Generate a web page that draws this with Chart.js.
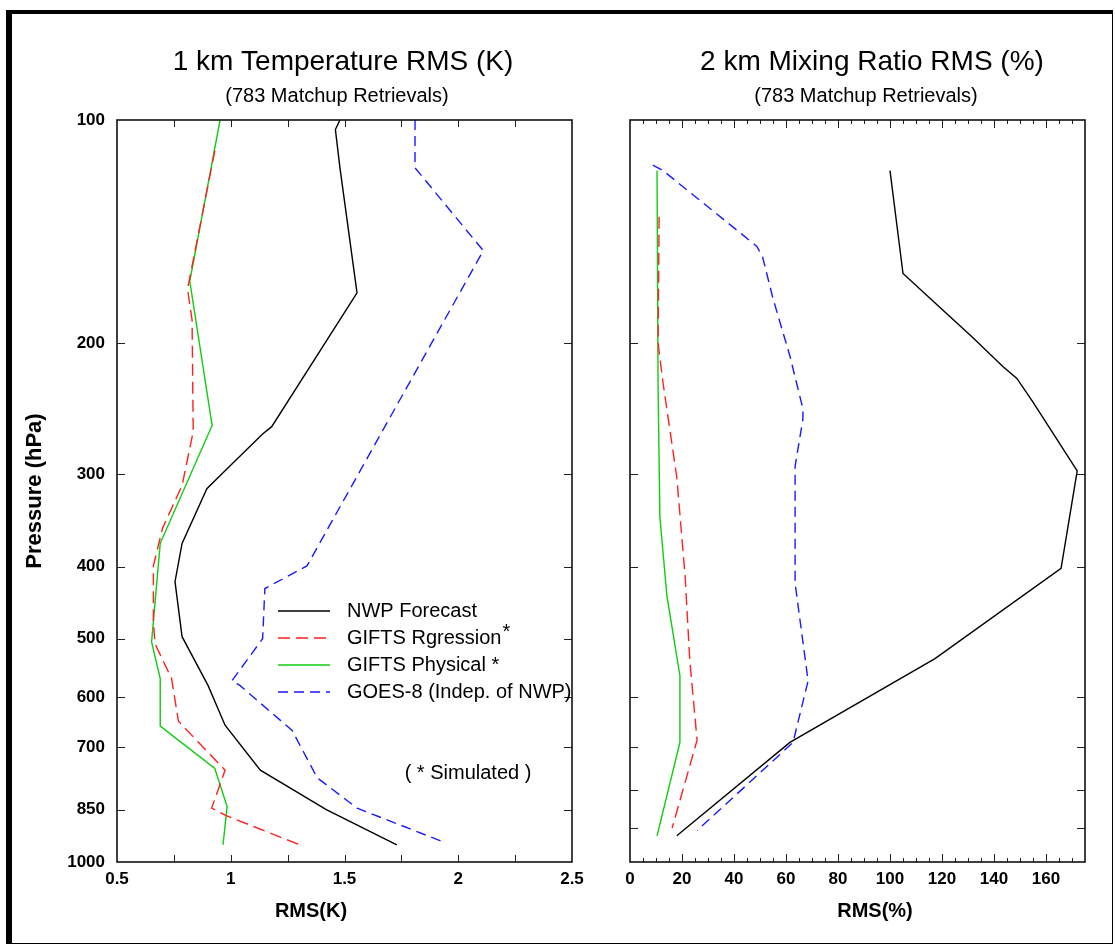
<!DOCTYPE html>
<html>
<head>
<meta charset="utf-8">
<title>GIFTS retrieval RMS profiles</title>
<script src="https://cdn.jsdelivr.net/npm/chart.js@4.4.1/dist/chart.umd.min.js"></script>
<style>
  html, body { margin: 0; padding: 0; background: #fff; }
  #frame {
    position: absolute; left: 6px; top: 10px; width: 1100px; height: 929px;
    border-left: 6px solid #000; border-top: 4px solid #000;
    border-right: 1px solid #000; border-bottom: 1px solid #000;
  }
  canvas { position: absolute; top: 0; }
  #tempChart { left: 0; }
  #mixChart { left: 600px; }
</style>
</head>
<body>
<div id="frame"></div>
<canvas id="tempChart" width="600" height="945"></canvas>
<canvas id="mixChart" width="515" height="945"></canvas>
<script>
// ---- data ----
const seriesLabels = ['NWP Forecast', 'GIFTS Rgression*', 'GIFTS Physical *', 'GOES-8 (Indep. of NWP)'];

// 1 km temperature RMS (K) vs pressure (hPa)
const nwpTempP  = [100, 103, 116, 171, 259, 265, 297, 314, 372, 419, 497, 578, 654, 752, 850, 948];
const nwpTempK  = [1.48, 1.46, 1.48, 1.555, 1.18, 1.14, 0.975, 0.895, 0.786, 0.755, 0.786, 0.90, 0.975, 1.13, 1.42, 1.73];
const regTempP  = [110, 169, 186, 263, 311, 355, 399, 474, 508, 566, 646, 752, 846, 866, 952];
const regTempK  = [0.93, 0.81, 0.83, 0.835, 0.786, 0.70, 0.66, 0.66, 0.667, 0.74, 0.77, 0.975, 0.916, 0.98, 1.318];
const physTempP = [100, 165, 258, 372, 505, 566, 656, 748, 842, 948];
const physTempK = [0.953, 0.82, 0.918, 0.69, 0.652, 0.69, 0.69, 0.93, 0.984, 0.966];
const goesTempP = [100, 116, 150, 399, 428, 500, 570, 578, 665, 770, 846, 941];
const goesTempK = [1.81, 1.81, 2.11, 1.335, 1.15, 1.14, 1.005, 1.04, 1.27, 1.38, 1.555, 1.94];

// 2 km mixing ratio RMS (%) vs pressure (hPa)
const nwpMixP  = [117, 161, 178, 196, 215, 223, 240, 297, 402, 532, 690, 922];
const nwpMixPc = [100, 105, 118.5, 131.5, 143.5, 148.8, 155, 172, 165.8, 117.3, 61.5, 18];
const regMixP  = [135, 200, 226, 303, 412, 535, 685, 900];
const regMixPc = [11.2, 10.8, 12.7, 18, 21.2, 23, 25.8, 16.2];
const physMixP  = [117, 229, 343, 438, 561, 690, 922];
const physMixPc = [10.4, 10.8, 11.5, 14.2, 19.2, 19.2, 10.4];
const goesMixP  = [115, 117, 148, 153, 174, 208, 245, 253, 293, 421, 570, 690, 907];
const goesMixPc = [8.8, 12.7, 48.8, 51, 55, 61.5, 66.5, 66.5, 63.5, 63.5, 68.5, 62.7, 25.8];

// axis ticks
const pressureTicks = [100, 200, 300, 400, 500, 600, 700, 850, 1000];
const tempTicks = [0.5, 1, 1.5, 2, 2.5];
const tempTickLabels = ['0.5', '1', '1.5', '2', '2.5'];
const tempMinorTicks = [0.75, 1, 1.25, 1.5, 1.75, 2, 2.25];
const mixTicks = [0, 20, 40, 60, 80, 100, 120, 140, 160];
const mixMinorTicks = [5, 10, 15, 25, 30, 35, 45, 50, 55, 65, 70, 75, 85, 90, 95, 105, 110, 115, 125, 130, 135, 145, 150, 155, 165, 170];
const mixSideTicks = [200, 300, 400, 600, 700, 800, 900];

Chart.defaults.font.family = '"Liberation Sans", Arial, sans-serif';
Chart.defaults.color = '#000';

const pairs = (p, v) => p.map((pp, i) => ({ x: v[i], y: pp }));

const styles = [
  { borderColor: '#000000', borderWidth: 1.4 },
  { borderColor: '#ff2020', borderWidth: 1.4, borderDash: [12, 6] },
  { borderColor: '#10cc10', borderWidth: 1.4 },
  { borderColor: '#1a1aff', borderWidth: 1.4, borderDash: [10, 6] }
];

function makeDatasets(list) {
  return list.map((d, i) => Object.assign({
    label: seriesLabels[i],
    data: d,
    showLine: true,
    pointRadius: 0,
    tension: 0,
    fill: false
  }, styles[i]));
}

// plot box + inward tick marks
const frameTicks = {
  id: 'frameTicks',
  afterDatasetsDraw(chart, args, o) {
    const { ctx, chartArea: a, scales: { x, y } } = chart;
    ctx.save();
    ctx.strokeStyle = '#222';
    ctx.lineWidth = 1;
    const seg = (x1, y1, x2, y2) => { ctx.beginPath(); ctx.moveTo(x1, y1); ctx.lineTo(x2, y2); ctx.stroke(); };
    (o.xTicks || []).forEach(t => {
      t.values.forEach(v => {
        const px = Math.round(x.getPixelForValue(v)) + 0.5;
        seg(px, a.bottom, px, a.bottom - t.len);
        seg(px, a.top, px, a.top + t.len);
      });
    });
    (o.yTicks || []).forEach(t => {
      t.values.forEach(v => {
        const py = Math.round(y.getPixelForValue(v)) + 0.5;
        seg(a.left, py, a.left + t.len, py);
        seg(a.right, py, a.right - t.len, py);
      });
    });
    ctx.lineWidth = 1.6;
    ctx.strokeStyle = '#111';
    ctx.strokeRect(a.left, a.top, a.right - a.left, a.bottom - a.top);
    ctx.restore();
  }
};

// free text: titles, axis label, note
const annotate = {
  id: 'annotate',
  afterDraw(chart, args, o) {
    const ctx = chart.ctx;
    ctx.save();
    ctx.fillStyle = '#000';
    ctx.textBaseline = 'middle';
    (o.texts || []).forEach(t => {
      ctx.font = t.font;
      ctx.textAlign = t.align || 'center';
      ctx.fillText(t.text, t.x, t.y);
    });
    ctx.restore();
  }
};

// legend drawn inside the plot area
const insideLegend = {
  id: 'insideLegend',
  afterDraw(chart, args, o) {
    if (!o.display) return;
    const ctx = chart.ctx;
    chart.data.datasets.forEach((ds, i) => {
      const y = o.y + i * o.rowGap;
      ctx.save();
      ctx.strokeStyle = ds.borderColor;
      ctx.lineWidth = ds.borderWidth;
      ctx.setLineDash(ds.borderDash || []);
      ctx.beginPath(); ctx.moveTo(o.x, y); ctx.lineTo(o.x + o.lineLen, y); ctx.stroke();
      ctx.setLineDash([]);
      ctx.font = o.font;
      ctx.fillStyle = '#000';
      ctx.textBaseline = 'middle';
      ctx.textAlign = 'left';
      let label = ds.label;
      const star = label.endsWith('*') && !label.endsWith(' *');
      if (star) label = label.slice(0, -1);
      ctx.fillText(label, o.x + o.textGap, y);
      if (star) ctx.fillText('*', o.x + o.textGap + ctx.measureText(label).width + 1, y - 6);
      ctx.restore();
    });
  }
};

const tickFont = { size: 17, weight: 'bold' };
const titleFont = '28px "Liberation Sans", Arial, sans-serif';
const subFont = '20px "Liberation Sans", Arial, sans-serif';
const axisFont = 'bold 20px "Liberation Sans", Arial, sans-serif';

// left panel: temperature
new Chart(document.getElementById('tempChart'), {
  type: 'scatter',
  data: {
    datasets: makeDatasets([
      pairs(nwpTempP, nwpTempK),
      pairs(regTempP, regTempK),
      pairs(physTempP, physTempK),
      pairs(goesTempP, goesTempK)
    ])
  },
  options: {
    responsive: false,
    animation: false,
    events: [],
    layout: { padding: { top: 120, right: 28, bottom: 0, left: 0 } },
    scales: {
      x: {
        type: 'linear', min: 0.5, max: 2.5,
        afterBuildTicks: s => { s.ticks = tempTicks.map(v => ({ value: v })); },
        afterFit: s => { s.height = 83; },
        grid: { display: false, drawTicks: false },
        border: { display: false },
        ticks: { font: tickFont, padding: 7, maxRotation: 0, autoSkip: false,
                 callback: v => tempTickLabels[tempTicks.indexOf(v)] }
      },
      y: {
        type: 'logarithmic', reverse: true, min: 100, max: 1000,
        afterBuildTicks: s => { s.ticks = pressureTicks.map(v => ({ value: v })); },
        afterFit: s => { s.width = 117; },
        grid: { display: false, drawTicks: false },
        border: { display: false },
        title: { display: true, text: 'Pressure (hPa)', font: { size: 22, weight: 'bold' }, padding: { top: 22, bottom: 0 } },
        ticks: { font: tickFont, padding: 12, autoSkip: false, callback: v => String(v) }
      }
    },
    plugins: {
      legend: { display: false },
      tooltip: { enabled: false },
      frameTicks: {
        xTicks: [{ values: tempMinorTicks, len: 7 }],
        yTicks: [{ values: pressureTicks.slice(1, -1), len: 8 }]
      },
      annotate: {
        texts: [
          { text: '1 km Temperature RMS (K)', x: 343, y: 62, font: titleFont },
          { text: '(783 Matchup Retrievals)', x: 337, y: 96, font: subFont },
          { text: 'RMS(K)', x: 311, y: 911, font: axisFont },
          { text: '( * Simulated )', x: 468, y: 773, font: '20px "Liberation Sans", Arial, sans-serif' }
        ]
      },
      insideLegend: {
        display: true, x: 278, y: 611, rowGap: 27, lineLen: 52, textGap: 69,
        font: '20px "Liberation Sans", Arial, sans-serif'
      }
    }
  },
  plugins: [frameTicks, annotate, insideLegend]
});

// right panel: mixing ratio
new Chart(document.getElementById('mixChart'), {
  type: 'scatter',
  data: {
    datasets: makeDatasets([
      pairs(nwpMixP, nwpMixPc),
      pairs(regMixP, regMixPc),
      pairs(physMixP, physMixPc),
      pairs(goesMixP, goesMixPc)
    ])
  },
  options: {
    responsive: false,
    animation: false,
    events: [],
    layout: { padding: { top: 120, right: 30, bottom: 0, left: 0 } },
    scales: {
      x: {
        type: 'linear', min: 0, max: 175,
        afterBuildTicks: s => { s.ticks = mixTicks.map(v => ({ value: v })); },
        afterFit: s => { s.height = 83; },
        grid: { display: false, drawTicks: false },
        border: { display: false },
        ticks: { font: tickFont, padding: 7, maxRotation: 0, autoSkip: false, callback: v => String(v) }
      },
      y: {
        type: 'logarithmic', reverse: true, min: 100, max: 1000,
        afterFit: s => { s.width = 30; },
        grid: { display: false, drawTicks: false },
        border: { display: false },
        ticks: { display: false }
      }
    },
    plugins: {
      legend: { display: false },
      tooltip: { enabled: false },
      frameTicks: {
        xTicks: [{ values: mixTicks.slice(1), len: 8 }, { values: mixMinorTicks, len: 4 }],
        yTicks: [{ values: mixSideTicks, len: 8 }]
      },
      annotate: {
        texts: [
          { text: '2 km Mixing Ratio RMS (%)', x: 272, y: 62, font: titleFont },
          { text: '(783 Matchup Retrievals)', x: 266, y: 96, font: subFont },
          { text: 'RMS(%)', x: 275, y: 911, font: axisFont }
        ]
      },
      insideLegend: { display: false }
    }
  },
  plugins: [frameTicks, annotate, insideLegend]
});
</script>
</body>
</html>
